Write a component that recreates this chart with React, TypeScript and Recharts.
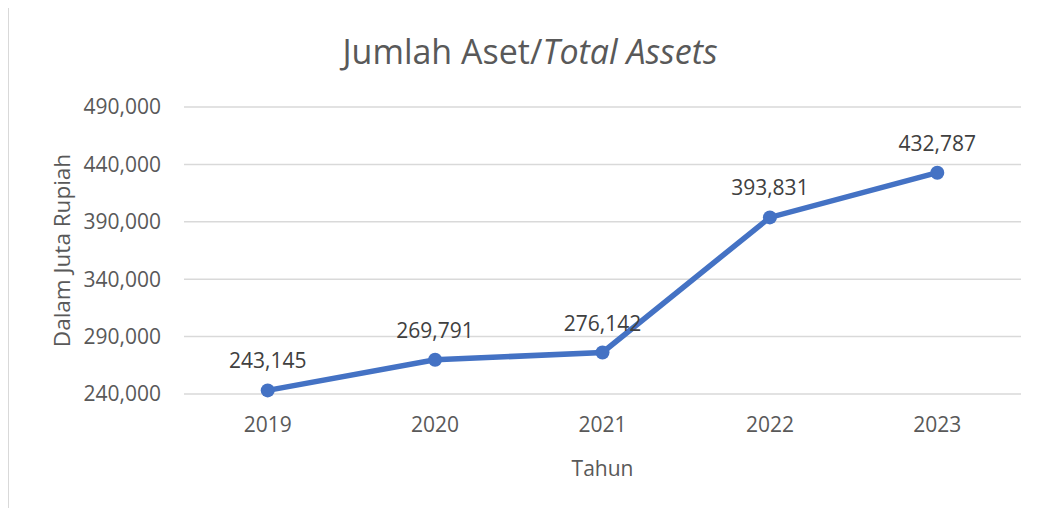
import React from "react";
import {
  CartesianGrid,
  LabelList,
  Line,
  LineChart,
  XAxis,
  YAxis,
} from "recharts";

const years = ["2019", "2020", "2021", "2022", "2023"];
const totalAssets = [243145, 269791, 276142, 393831, 432787];
const yTicks = [240000, 290000, 340000, 390000, 440000, 490000];

const data = years.map((year, i) => ({ year, assets: totalAssets[i] }));

const fmt = (v: number) => v.toLocaleString("en-US");
const font = "'Open Sans', sans-serif";

export default function App() {
  return (
    <div style={{ position: "relative", width: 1040, height: 508, fontFamily: font }}>
      <div
        style={{
          position: "absolute",
          left: 0,
          top: -1,
          width: 1100,
          height: 600,
          border: "1px solid #d9d9d9",
        }}
      />
      <div
        style={{
          position: "absolute",
          left: 0,
          top: 20,
          width: 1044,
          textAlign: "center",
          fontSize: 34,
          lineHeight: "46px",
          color: "#595959",
          whiteSpace: "nowrap",
        }}
      >
        Jumlah Aset/<i>Total Assets</i>
      </div>
      <div style={{ position: "absolute", left: -8, top: -8 }}>
        <LineChart
          width={1040}
          height={508}
          data={data}
          margin={{ top: 107, right: 19, bottom: 0, left: 0 }}
        >
          <CartesianGrid vertical={false} stroke="#d9d9d9" strokeWidth={1.5} />
          <XAxis
            dataKey="year"
            scale="band"
            height={114}
            axisLine={false}
            tickLine={false}
            tickSize={0}
            tickMargin={23}
            tick={{ fill: "#595959", fontSize: 21, fontFamily: font }}
            label={{
              value: "Tahun",
              position: "insideBottom",
              offset: 32,
              fill: "#595959",
              fontSize: 21,
              fontFamily: font,
            }}
          />
          <YAxis
            width={184}
            domain={[240000, 490000]}
            ticks={yTicks}
            axisLine={false}
            tickLine={false}
            tickSize={0}
            tickMargin={23}
            tickFormatter={fmt}
            tick={{ fill: "#595959", fontSize: 21, fontFamily: font }}
            label={{
              value: "Dalam Juta Rupiah",
              angle: -90,
              position: "insideLeft",
              offset: 62,
              fill: "#595959",
              fontSize: 22.5,
              fontFamily: font,
              style: { textAnchor: "middle" },
            }}
          />
          <Line
            type="linear"
            dataKey="assets"
            stroke="#4472C4"
            strokeWidth={5.5}
            dot={{ r: 7, fill: "#4472C4", stroke: "#4472C4", strokeWidth: 0 }}
            isAnimationActive={false}
          >
            <LabelList
              dataKey="assets"
              position="top"
              offset={22}
              formatter={(v: any) => fmt(Number(v))}
              fill="#404040"
              fontSize={21}
              fontFamily={font}
            />
          </Line>
        </LineChart>
      </div>
    </div>
  );
}
